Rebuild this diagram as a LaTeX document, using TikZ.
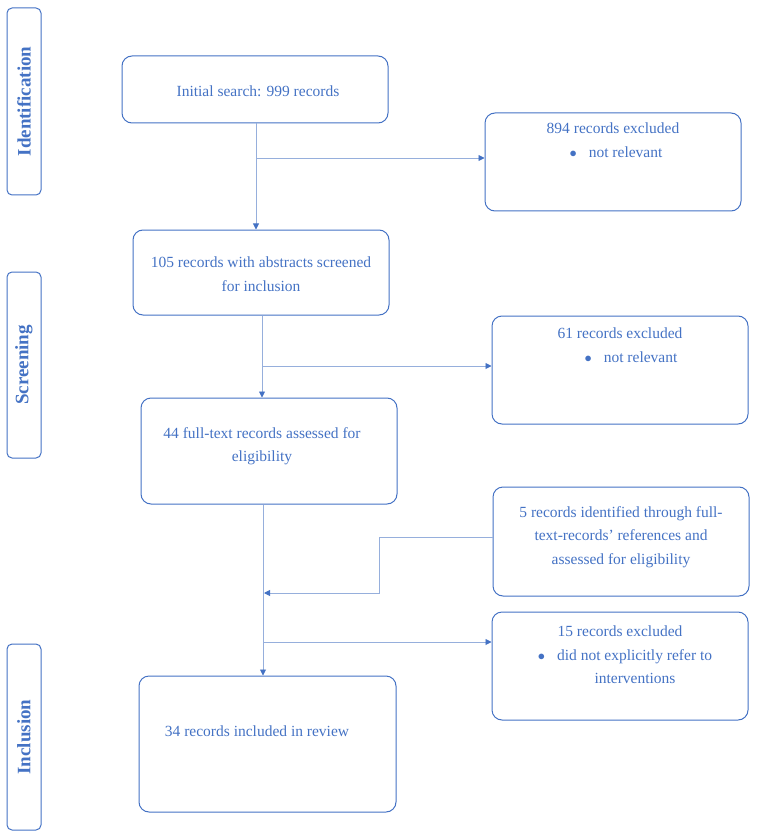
\documentclass[tikz,border=0pt]{standalone}
\usepackage{fontspec}
\setmainfont{Liberation Serif}
\usetikzlibrary{arrows.meta}
\definecolor{bl}{RGB}{68,114,196}
\definecolor{ln}{RGB}{150,175,220}
\begin{document}
\begin{tikzpicture}[x=1pt,y=-1pt,
 box/.style={draw=bl,line width=1pt,rounded corners=10pt,inner sep=0pt},
 txt/.style={text=bl,align=center,font=\fontsize{15.5}{23.5}\selectfont,inner sep=0pt},
 side/.style={draw=bl,line width=1pt,rounded corners=5pt,inner sep=0pt},
 stxt/.style={rotate=90,text=bl,font=\bfseries\fontsize{19}{20}\selectfont},
 con/.style={draw=ln,line width=0.9pt},
 arr/.style={con,-{Triangle[length=6pt,width=6pt,fill=bl,color=bl]}}]
\useasboundingbox (0,0) rectangle (759,834);
\node[side,minimum width=34,minimum height=187] (s1) at (24,101.5) {};
\node[stxt] (t1) at (24,101.5) {Identification};
\node[side,minimum width=34,minimum height=186] (s2) at (24,365) {};
\node[stxt] (t2) at (24,365) {Screening};
\node[side,minimum width=34,minimum height=186] (s3) at (24,737) {};
\node[stxt] (t3) at (24,737) {Inclusion};
\node[box,minimum width=266,minimum height=67] (a) at (255,89.5) {};
\node[txt] (at) at (258,91) {Initial search: 999 records};
\node[box,minimum width=256,minimum height=98] (e1) at (613,162) {};
\node[txt,anchor=north] (e1t) at (613,123) {894 records excluded\\ \hspace*{6pt}$\bullet$\hspace{12pt}not relevant};
\node[box,minimum width=256,minimum height=85] (b) at (261,272.5) {};
\node[txt] (bt) at (261,274) {105 records with abstracts screened\\for inclusion};
\node[box,minimum width=256,minimum height=108] (e2) at (620,370) {};
\node[txt,anchor=north] (e2t) at (620,328) {61 records excluded\\ \hspace*{22pt}$\bullet$\hspace{12pt}not relevant};
\node[box,minimum width=256,minimum height=106] (c) at (269,451) {};
\node[txt] (ct) at (262,446) {44 full-text records assessed for\\eligibility};
\node[box,minimum width=256,minimum height=109] (f) at (621,541.5) {};
\node[txt] (ft) at (621,537) {5 records identified through full-\\text-records' references and\\assessed for eligibility};
\node[box,minimum width=256,minimum height=108] (e3) at (620,666) {};
\node[txt,anchor=north] (e3t) at (620,626) {15 records excluded\\ \hspace*{10pt}$\bullet$\hspace{12pt}did not explicitly refer to\\ \hspace*{30pt}interventions};
\node[box,minimum width=257,minimum height=136] (d) at (267.5,744) {};
\node[txt] (dt) at (257,731) {34 records included in review};
\coordinate (j1) at (256,158);
\coordinate (j2) at (262,366);
\coordinate (j3) at (263,642);
\coordinate (k1) at (379,537);
\coordinate (k2) at (379,593);
\coordinate (k3) at (264,593);
\draw[arr] (a.south-|j1) -- (b.north-|j1);
\draw[arr] (j1) -- (e1.west|-j1);
\draw[arr] (b.south-|j2) -- (c.north-|j2);
\draw[arr] (j2) -- (e2.west|-j2);
\draw[arr] (c.south-|j3) -- (d.north-|j3);
\draw[arr] (j3) -- (e3.west|-j3);
\draw[arr] (f.west|-k1) -- (k1) -- (k2) -- (k3);
\end{tikzpicture}
\end{document}
